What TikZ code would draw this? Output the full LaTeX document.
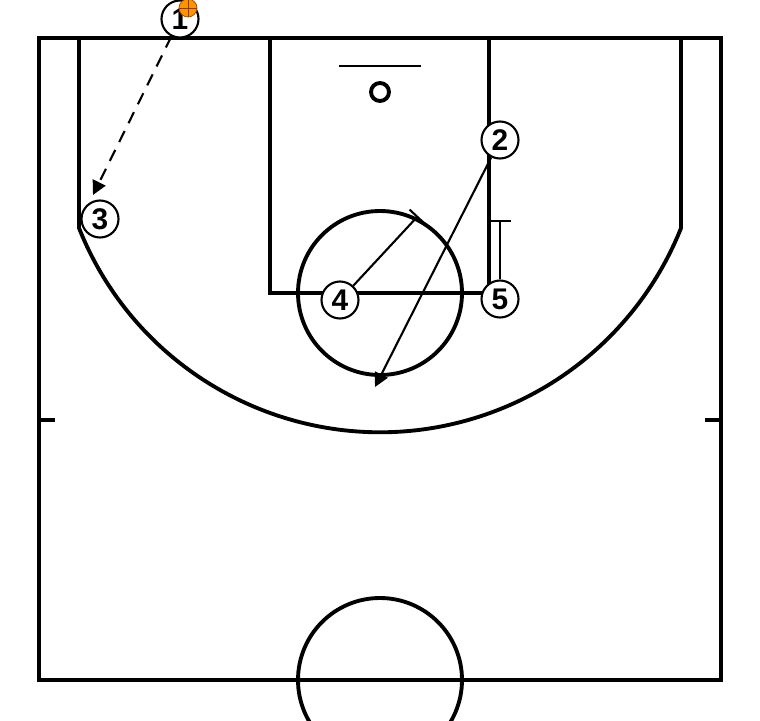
\documentclass[tikz,border=0pt]{standalone}
\usepackage{fontspec}
\setmainfont{Liberation Sans}
\usetikzlibrary{arrows.meta,calc}

\begin{document}
\begin{tikzpicture}[x=0.02cm,y=-0.02cm,
    court/.style={line width=2.2pt},
    player/.style={circle,draw,fill=white,line width=1.2pt,minimum size=0.74cm,inner sep=0pt,font=\bfseries\fontsize{17}{17}\selectfont},
    move/.style={line width=1.2pt,-{Triangle[length=8pt,width=8pt]}},
    pass/.style={move,dash pattern=on 7pt off 5pt},
    screen/.style={line width=1.2pt,-{Bar[width=12pt]}}]
\useasboundingbox (0,0) rectangle (760,720);

% Court outline and markings
\draw[court] (39,38) rectangle (721,680);
\draw[court] (79,38) -- (79,228) arc[start angle=158.3,end angle=21.7,radius=324] -- (681,38);
\draw[court] (270,38) -- (270,293) -- (489,293) -- (489,38);
\draw[court] (380,293) circle[radius=82];
\draw[court] (380,680) circle[radius=82];
\draw[line width=1.2pt] (339,66) -- (421,66);
\draw[court] (380,92) circle[radius=9];
\foreach \xa/\xb in {39/55, 705/721}
    \draw[court] (\xa,420) -- (\xb,420);

% Players
\foreach \n/\px/\py in {1/180/19, 2/500/140, 3/100/219, 4/340/300, 5/500/299}
    \node[player] (p\n) at (\px,\py) {\n};
% ball
\fill[orange!85!yellow,draw=orange!60!black,line width=0.4pt] (188,8) circle[radius=9];
\draw[orange!50!black,line width=0.4pt] (179,8) -- (197,8) (188,-1) -- (188,17);

% Actions
\coordinate (catch) at (93,195);
\coordinate (cut) at (375,387);
\coordinate (scrA) at (418,216);
\coordinate (scrB) at (500,220);
\draw[pass] (p1) -- (catch);
\draw[move] (p2) -- (cut);
\draw[screen] (p4) -- (scrA);
\draw[screen] (p5) -- (scrB);
\end{tikzpicture}
\end{document}
